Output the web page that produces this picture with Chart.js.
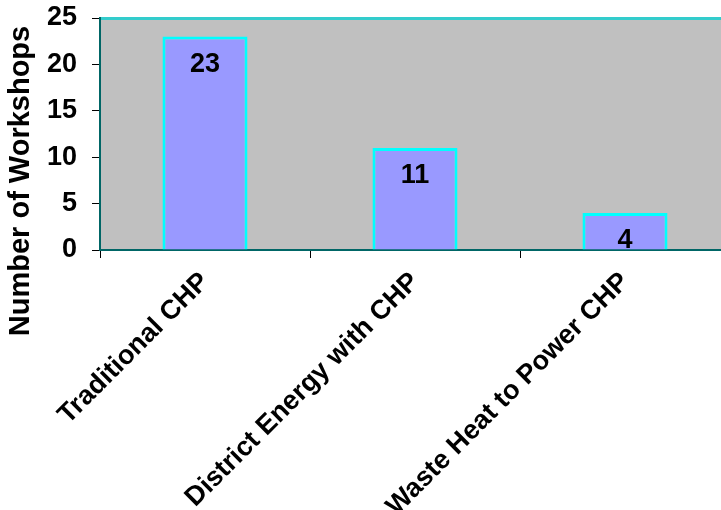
<!DOCTYPE html>
<html>
<head>
<meta charset="utf-8">
<script src="https://cdn.jsdelivr.net/npm/chart.js@4/dist/chart.umd.min.js"></script>
<style>
  html, body { margin: 0; padding: 0; background: #fff; overflow: hidden; }
  #wrap { width: 740px; height: 510px; }
</style>
</head>
<body>
<div id="wrap"><canvas id="myChart" width="740" height="510"></canvas></div>
<script>
const categories = ['Traditional CHP', 'District Energy with CHP', 'Waste Heat to Power CHP'];
const workshops = [23, 11, 4];
const yTicks = [0, 5, 10, 15, 20, 25];
const yTitle = 'Number of Workshops';

const font = 'Arial, "Liberation Sans", sans-serif';

// grey plot background plus the light teal top edge
const plotBackground = {
  id: 'plotBackground',
  beforeDraw(chart) {
    const { ctx, chartArea: a } = chart;
    ctx.save();
    ctx.fillStyle = '#C0C0C0';
    ctx.fillRect(a.left, a.top, a.right - a.left, a.bottom - a.top);
    ctx.fillStyle = '#33CCCC';
    ctx.fillRect(a.left, a.top - 1, a.right - a.left, 3);
    ctx.restore();
  }
};

// value written inside the top of each bar
const valueLabels = {
  id: 'valueLabels',
  afterDatasetsDraw(chart) {
    const { ctx, chartArea: a } = chart;
    const meta = chart.getDatasetMeta(0);
    ctx.save();
    ctx.beginPath();
    ctx.rect(a.left, a.top, a.right - a.left, a.bottom - a.top);
    ctx.clip();
    ctx.font = 'bold 27px ' + font;
    ctx.fillStyle = '#000';
    ctx.textAlign = 'center';
    ctx.textBaseline = 'middle';
    meta.data.forEach((bar, i) => {
      ctx.fillText(String(workshops[i]), bar.x, bar.y + 28);
    });
    ctx.restore();
  }
};

// vertical axis title, sitting a bit below the axis middle
const axisTitle = {
  id: 'axisTitle',
  afterDraw(chart) {
    const { ctx } = chart;
    ctx.save();
    ctx.translate(21, 181);
    ctx.rotate(-Math.PI / 2);
    ctx.font = 'bold 29px ' + font;
    ctx.fillStyle = '#000';
    ctx.textAlign = 'center';
    ctx.textBaseline = 'middle';
    ctx.fillText(yTitle, 0, 0);
    ctx.restore();
  }
};

const ctx = document.getElementById('myChart').getContext('2d');

new Chart(ctx, {
  type: 'bar',
  data: {
    labels: categories,
    datasets: [{
      data: workshops,
      backgroundColor: '#9999FF',
      borderColor: '#00FFFF',
      borderWidth: 3,
      borderSkipped: 'start',
      categoryPercentage: 1,
      barPercentage: 0.405
    }]
  },
  options: {
    responsive: false,
    animation: false,
    layout: { padding: { top: 18, right: 10, left: 0, bottom: 0 } },
    plugins: { legend: { display: false }, tooltip: { enabled: false } },
    scales: {
      x: {
        grid: {
          offset: true,
          drawOnChartArea: false,
          color: '#000',
          tickLength: 8
        },
        border: { color: '#006666', width: 2 },
        ticks: {
          color: '#000',
          font: { family: font, size: 27, weight: 'bold' },
          minRotation: 45,
          maxRotation: 45,
          autoSkip: false,
          padding: 8
        },
        afterFit(scale) {
          scale.height = 260;
          scale.paddingLeft = 0;
          scale.paddingRight = 0;
        }
      },
      y: {
        min: 0,
        max: 25,
        afterBuildTicks(scale) { scale.ticks = yTicks.map(v => ({ value: v })); },
        grid: {
          drawOnChartArea: false,
          color: '#000',
          tickLength: 8
        },
        border: { color: '#006666', width: 2 },
        ticks: {
          color: '#000',
          font: { family: font, size: 27, weight: 'bold' },
          padding: 15
        },
        afterFit(scale) {
          scale.width = 100;
          scale.paddingTop = 0;
          scale.paddingBottom = 0;
        }
      }
    }
  },
  plugins: [plotBackground, valueLabels, axisTitle]
});
</script>
</body>
</html>
